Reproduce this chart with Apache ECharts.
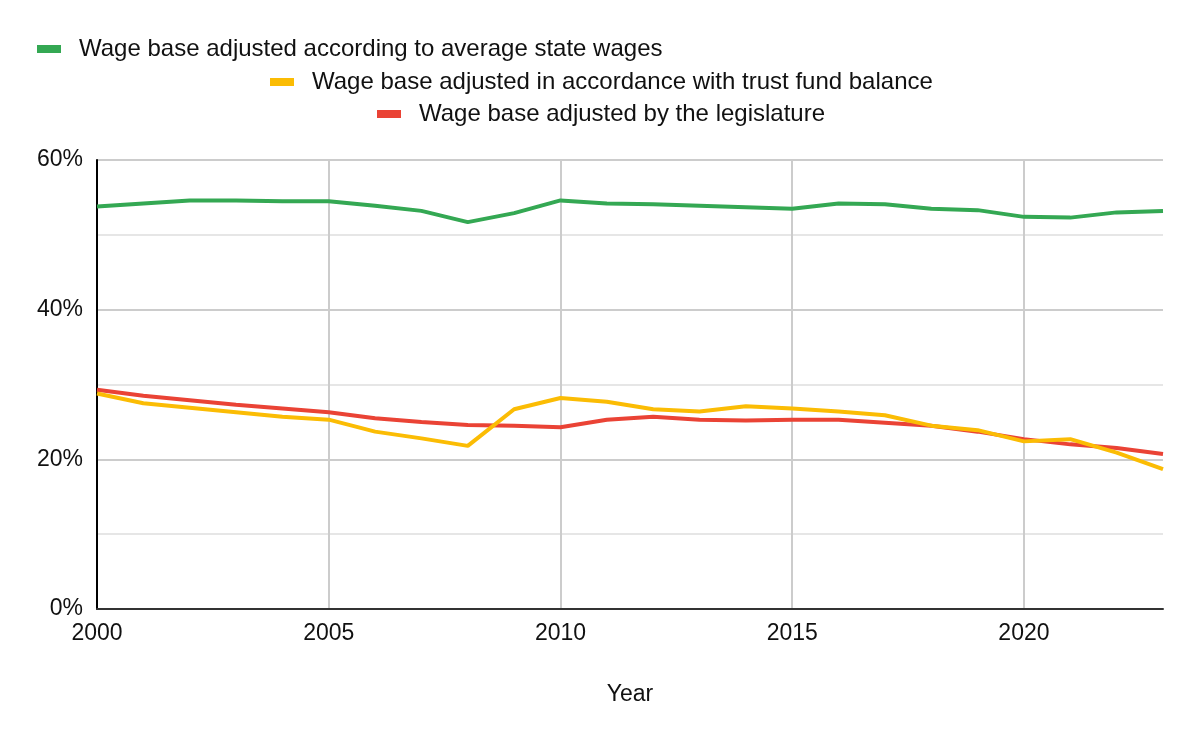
<!DOCTYPE html>
<html>
<head>
<meta charset="utf-8">
<script src="https://cdn.jsdelivr.net/npm/echarts@6/dist/echarts.min.js"></script>
<style>
html,body{margin:0;padding:0;background:#fff;}
#chart{width:1200px;height:742px;}
</style>
</head>
<body>
<div id="chart"></div>
<script>
const years = [2000,2001,2002,2003,2004,2005,2006,2007,2008,2009,2010,2011,2012,2013,2014,2015,2016,2017,2018,2019,2020,2021,2022,2023];
const seriesNames = [
  'Wage base adjusted according to average state wages',
  'Wage base adjusted in accordance with trust fund balance',
  'Wage base adjusted by the legislature'
];
const avgStateWages = [53.8,54.2,54.6,54.6,54.5,54.5,53.9,53.2,51.7,52.9,54.6,54.2,54.1,53.9,53.7,53.5,54.2,54.1,53.5,53.3,52.4,52.3,53.0,53.2];
const trustFund = [28.8,27.5,26.9,26.3,25.7,25.3,23.7,22.8,21.8,26.7,28.2,27.7,26.7,26.4,27.1,26.8,26.4,25.9,24.5,23.9,22.4,22.7,20.9,18.7];
const legislature = [29.3,28.5,27.9,27.3,26.8,26.3,25.5,25.0,24.6,24.5,24.3,25.3,25.7,25.3,25.2,25.3,25.3,24.9,24.5,23.7,22.7,22.0,21.5,20.7];
const colors = ['#34a853','#fbbc04','#ea4335'];
const xTitle = 'Year';

const font = 'Liberation Sans, Arial, sans-serif';
const textColor = '#111';
function pairs(vals){ return years.map((y,i)=>[y, vals[i]]); }
const allVals = [avgStateWages, trustFund, legislature];

const legendPos = [{left:37, top:37},{left:270, top:70},{left:377, top:102}];
const legends = seriesNames.map((n,i)=>({
  data:[n], left:legendPos[i].left, top:legendPos[i].top, padding:0,
  icon:'rect', itemWidth:24, itemHeight:8, selectedMode:false,
  textStyle:{fontFamily:font, fontSize:24, color:textColor, padding:[0,0,0,13]}
}));

const chart = echarts.init(document.getElementById('chart'));
chart.setOption({
  animation:false,
  color: colors,
  legend: legends,
  grid:{left:97, right:37, top:160, bottom:133, containLabel:false},
  xAxis:{
    type:'value', min:2000, max:2023, interval:5,
    name:xTitle, nameLocation:'middle', nameGap:74,
    nameTextStyle:{fontFamily:font, fontSize:23, color:textColor},
    axisLine:{show:true, onZero:false, lineStyle:{color:'#333', width:2}},
    axisTick:{show:false},
    axisLabel:{fontFamily:font, fontSize:23, color:textColor, margin:13, showMaxLabel:false,
      formatter:v=>String(v)},
    splitLine:{show:true, showMaxLine:false, lineStyle:{color:'#cccccc', width:2}}
  },
  yAxis:{
    type:'value', min:0, max:60, interval:20,
    axisLine:{show:true, onZero:false, lineStyle:{color:'#000', width:2}},
    axisTick:{show:false},
    axisLabel:{fontFamily:font, fontSize:23, color:textColor, margin:14, padding:[3,0,0,0], formatter:'{value}%'},
    splitLine:{show:true, lineStyle:{color:'#cccccc', width:2}},
    minorTick:{show:false, splitNumber:2},
    minorSplitLine:{show:true, lineStyle:{color:'#e6e6e6', width:2}}
  },
  series: seriesNames.map((n,i)=>({
    name:n, type:'line', data:pairs(allVals[i]), showSymbol:false, symbol:'none',
    lineStyle:{width:4, color:colors[i]}, itemStyle:{color:colors[i]}, z:5-i
  }))
});
</script>
</body>
</html>
